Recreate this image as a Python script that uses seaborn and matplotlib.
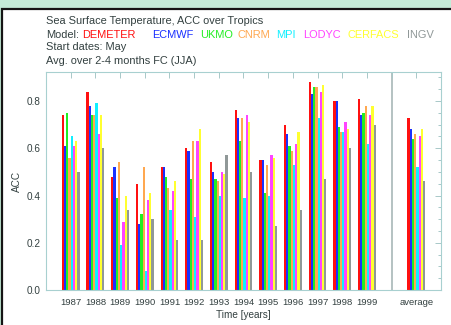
import matplotlib
matplotlib.use("Agg")
import matplotlib.pyplot as plt
from matplotlib.patches import Rectangle
from matplotlib.ticker import MultipleLocator
import seaborn as sns
import pandas as pd

years = ['1987', '1988', '1989', '1990', '1991', '1992', '1993',
         '1994', '1995', '1996', '1997', '1998', '1999']
models = ['DEMETER', 'ECMWF', 'UKMO', 'CNRM', 'MPI', 'LODYC', 'CERFACS', 'INGV']
colors = ['#ff1010', '#1a30ff', '#22ee22', '#ffa850', '#10f0ff', '#ff44ff', '#ffff30', '#909898']

demeter = [0.74, 0.84, 0.48, 0.45, 0.52, 0.60, 0.54, 0.76, 0.55, 0.70, 0.88, 0.80, 0.81]
ecmwf   = [0.61, 0.78, 0.52, 0.28, 0.52, 0.59, 0.50, 0.73, 0.55, 0.66, 0.83, 0.80, 0.74]
ukmo    = [0.75, 0.74, 0.39, 0.32, 0.48, 0.47, 0.47, 0.63, 0.41, 0.61, 0.86, 0.69, 0.75]
cnrm    = [0.56, 0.74, 0.54, 0.52, 0.43, 0.63, 0.46, 0.73, 0.53, 0.59, 0.86, 0.67, 0.78]
mpi     = [0.65, 0.79, 0.19, 0.08, 0.34, 0.31, 0.40, 0.39, 0.40, 0.53, 0.73, 0.67, 0.62]
lodyc   = [0.61, 0.66, 0.29, 0.38, 0.42, 0.63, 0.50, 0.74, 0.57, 0.62, 0.84, 0.71, 0.74]
cerfacs = [0.63, 0.74, 0.40, 0.41, 0.46, 0.68, 0.49, 0.71, 0.56, 0.67, 0.87, 0.68, 0.78]
ingv    = [0.50, 0.60, 0.34, 0.30, 0.21, 0.21, 0.57, 0.50, 0.27, 0.34, 0.47, 0.60, 0.70]
average = [0.73, 0.68, 0.64, 0.66, 0.52, 0.65, 0.68, 0.46]

series = [demeter, ecmwf, ukmo, cnrm, mpi, lodyc, cerfacs, ingv]
rows = []
for m, vals, avg in zip(models, series, average):
    for y, v in zip(years, vals):
        rows.append({'period': y, 'model': m, 'acc': v})
    rows.append({'period': 'average', 'model': m, 'acc': avg})
df = pd.DataFrame(rows)

sns.set_style('white')
plt.rcParams['font.family'] = ['Liberation Sans', 'DejaVu Sans']
txt = '#334040'

fig = plt.figure(figsize=(4.52, 3.25), dpi=100)
fig.patch.set_facecolor('#c4ecd8')
fig.patches.append(Rectangle((2.5 / 452, -0.05), 1.1, 1.05 - 8.5 / 325, transform=fig.transFigure,
                             facecolor='white', edgecolor='#151515', lw=1.6, zorder=-5))

ax = fig.add_axes([46 / 452, 35 / 325, 395 / 452, 218 / 325])
order = years + ['', 'average']
sns.barplot(data=df, x='period', y='acc', hue='model', order=order, hue_order=models,
            palette=colors, width=0.72, linewidth=0, saturation=1, errorbar=None,
            legend=False, ax=ax)

# separator between single years and the average
ax.axvline(13, color='#a8b8b8', lw=1.2, zorder=0)
ax.set_xlim(-1, 15)
ax.set_ylim(0, 0.923)
ax.set_xticks(range(-1, 16))
ax.set_xticklabels([''] + years + ['', 'average', ''], fontsize=6.8, color=txt)
ax.yaxis.set_major_locator(MultipleLocator(0.2))
ax.yaxis.set_minor_locator(MultipleLocator(0.05))
ax.set_yticklabels([f'{v:.1f}' for v in ax.get_yticks()], fontsize=7.2, color=txt)
ax.tick_params(axis='both', which='both', direction='in', top=True, right=True,
               color='#a8c8c8', width=0.7)
ax.tick_params(axis='both', which='major', length=4)
ax.tick_params(axis='x', which='major', pad=6)
ax.tick_params(axis='y', which='major', pad=4)
ax.tick_params(axis='y', which='minor', length=2.5)
for s in ax.spines.values():
    s.set_color('#a8d0d0')
    s.set_linewidth(0.8)

ax.set_xlabel('Time [years]', fontsize=7.2, color=txt, labelpad=2)
ax.set_ylabel('ACC', fontsize=7.2, color=txt, labelpad=3)

fs = 7.9
fig.text(46 / 452, 1 - 24 / 325, 'Sea Surface Temperature, ACC over Tropics', fontsize=fs, color=txt, va='baseline')
fig.text(46 / 452, 1 - 37.5 / 325, 'Model:', fontsize=fs, color=txt, va='baseline')
label_x = [82, 152, 200, 238, 276, 303, 348, 407]
for m, c, x in zip(models, colors, label_x):
    fig.text(x / 452, 1 - 37.5 / 325, m, fontsize=fs, color=c, va='baseline')
fig.text(46 / 452, 1 - 50.5 / 325, 'Start dates: May', fontsize=fs, color=txt, va='baseline')
fig.text(46 / 452, 1 - 64 / 325, 'Avg. over 2-4 months FC (JJA)', fontsize=fs, color=txt, va='baseline')

fig.savefig('out.png', dpi=100, facecolor=fig.get_facecolor())
